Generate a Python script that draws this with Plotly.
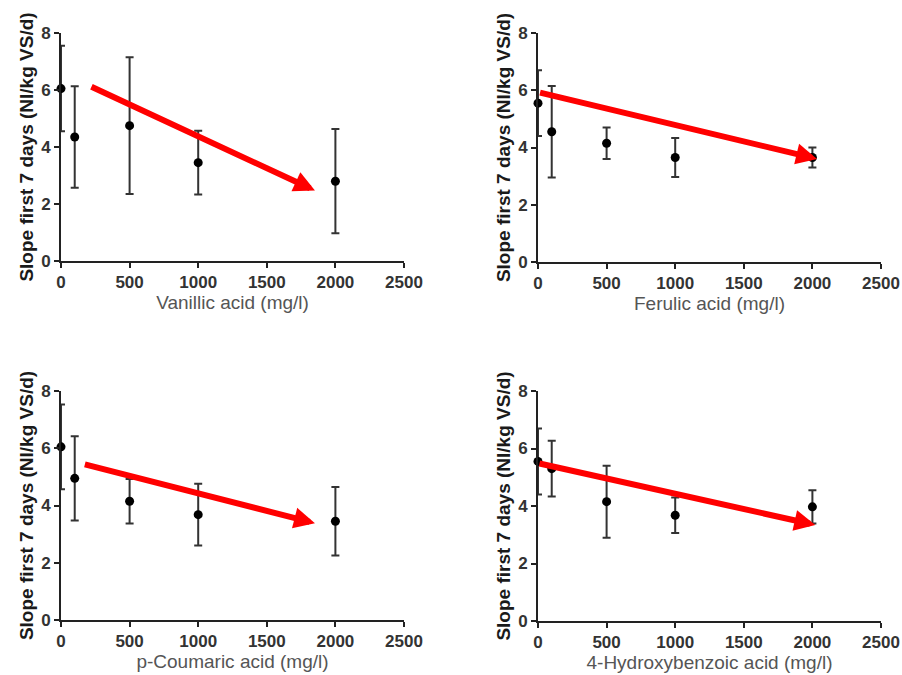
import plotly.graph_objects as go

# ---------------- data ----------------
conc = [0, 100, 500, 1000, 2000]

x_titles = ["Vanillic acid (mg/l)", "Ferulic acid (mg/l)",
            "p-Coumaric acid (mg/l)", "4-Hydroxybenzoic acid (mg/l)"]
y_title = "Slope first 7 days (Nl/kg VS/d)"

vanillic_mean = [6.05, 4.35, 4.75, 3.45, 2.80]
vanillic_sd = [1.50, 1.78, 2.40, 1.12, 1.83]

ferulic_mean = [5.55, 4.55, 4.15, 3.65, 3.65]
ferulic_sd = [1.15, 1.60, 0.55, 0.68, 0.35]

coumaric_mean = [6.05, 4.95, 4.15, 3.68, 3.45]
coumaric_sd = [1.48, 1.47, 0.78, 1.08, 1.20]

hydroxy_mean = [5.55, 5.30, 4.15, 3.68, 3.97]
hydroxy_sd = [1.15, 0.97, 1.25, 0.62, 0.58]

# trend arrows: tail (x, y) -> tip (x, y)
arrow_tail_x = [211, 4, 163, 0]
arrow_tail_y = [6.14, 5.93, 5.45, 5.49]
arrow_tip_x = [1851, 2034, 1851, 2021]
arrow_tip_y = [2.47, 3.60, 3.38, 3.34]

x_ticks = [0, 500, 1000, 1500, 2000, 2500]
y_ticks = [0, 2, 4, 6, 8]

means = [vanillic_mean, ferulic_mean, coumaric_mean, hydroxy_mean]
sds = [vanillic_sd, ferulic_sd, coumaric_sd, hydroxy_sd]

# ---------------- layout ----------------
W, H = 902, 675
x_doms = [(61, 404), (538, 881), (61, 404), (538, 881)]
y_doms = [(33, 261), (33, 262), (391, 620), (391, 621)]

FONT = "Arial, 'Liberation Sans', Helvetica, sans-serif"
AXIS_COL = "#222222"

fig = go.Figure()
layout = dict(
    width=W, height=H,
    margin=dict(l=0, r=0, t=0, b=0),
    paper_bgcolor="white", plot_bgcolor="white",
    showlegend=False,
    font=dict(family=FONT),
    annotations=[],
)

for i in range(4):
    xa = "x" if i == 0 else f"x{i+1}"
    ya = "y" if i == 0 else f"y{i+1}"
    fig.add_trace(go.Scatter(
        x=conc, y=means[i], xaxis=xa, yaxis=ya,
        mode="markers",
        marker=dict(color="black", size=9),
        error_y=dict(type="data", array=sds[i], visible=True,
                     color="#333333", thickness=2, width=4),
        cliponaxis=False,
    ))
    x0, x1 = x_doms[i]
    yt, yb = y_doms[i]
    common = dict(
        showline=True, linecolor=AXIS_COL, linewidth=2,
        ticks="outside", ticklen=5, tickwidth=2, tickcolor=AXIS_COL,
        showgrid=False, zeroline=False, automargin=False,
        tickfont=dict(family=FONT, size=17, color="#333333", weight="bold"),
    )
    layout["xaxis" if i == 0 else f"xaxis{i+1}"] = dict(
        domain=[x0 / W, x1 / W], anchor=ya,
        range=[0, 2500], tickvals=x_ticks,
        title=dict(text=x_titles[i], font=dict(family=FONT, size=19, color="#555555"),
                   standoff=0),
        **common,
    )
    layout["yaxis" if i == 0 else f"yaxis{i+1}"] = dict(
        domain=[1 - yb / H, 1 - yt / H], anchor=xa,
        range=[0, 8], tickvals=y_ticks,
        title=dict(text=y_title, font=dict(family=FONT, size=19, color="#1a1a1a", weight="bold"),
                   standoff=2),
        **common,
    )
    layout["annotations"].append(dict(
        x=arrow_tip_x[i], y=arrow_tip_y[i], xref=xa, yref=ya,
        ax=arrow_tail_x[i], ay=arrow_tail_y[i], axref=xa, ayref=ya,
        text="", showarrow=True, arrowhead=2, arrowsize=0.7,
        arrowwidth=6, arrowcolor="#ff0000", standoff=0,
    ))

fig.update_layout(**layout)
fig.write_html(
    "out.html",
    config={"displayModeBar": False},
    post_script="document.body.style.margin='0';document.body.style.overflow='hidden';",
)
